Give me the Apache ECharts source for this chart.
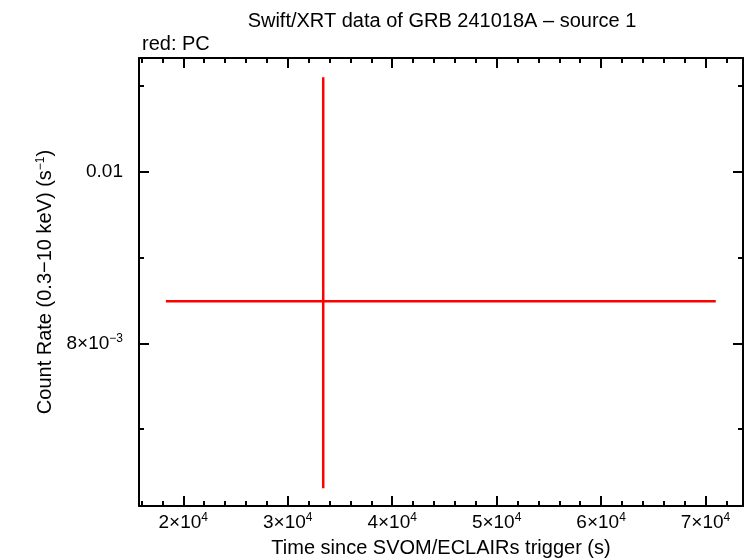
<!DOCTYPE html>
<html>
<head>
<meta charset="utf-8">
<script src="https://cdn.jsdelivr.net/npm/echarts@6/dist/echarts.min.js"></script>
<style>html,body{margin:0;padding:0;background:#fff}#c{width:746px;height:558px}</style>
</head>
<body>
<div id="c"></div>
<script>
// ---- data ----
const times = [33400];
const timeStart = [18340];
const timeEnd = [70980];
const rates = [0.00849];
const rateLow = [0.00631];
const rateHigh = [0.01110];

const xMajorTicks = [20000, 30000, 40000, 50000, 60000, 70000];
const xMajorLabels = ['2×10{s|4}', '3×10{s|4}', '4×10{s|4}', '5×10{s|4}', '6×10{s|4}', '7×10{s|4}'];
const xMinorTicks = [16000, 18000, 22000, 24000, 26000, 28000, 32000, 34000, 36000, 38000, 42000, 44000, 46000, 48000, 52000, 54000, 56000, 58000, 62000, 64000, 66000, 68000, 72000];
const yMajorTicks = [0.008, 0.01];
const yMajorLabels = ['8×10{s|−3}', '0.01'];
const yMinorTicks = [0.007, 0.009, 0.011];

const xRange = [15763, 73588];
const yRange = [0.006104, 0.011325];

const FONT = '"Liberation Sans", Arial, Helvetica, sans-serif';
const rich = { s: { fontSize: 12, verticalAlign: 'top', padding: [0, 0, 9, 0], fontFamily: FONT, color: '#000' } };

function xAxisDef(pos, ticks, len, withLabel, withLine) {
  return {
    type: 'value', position: pos, min: xRange[0], max: xRange[1],
    axisLine: { show: withLine, onZero: false, lineStyle: { color: '#000', width: 2 } },
    axisTick: { show: true, inside: true, length: len, customValues: ticks, lineStyle: { color: '#000', width: 2 } },
    axisLabel: withLabel ? {
      show: true, customValues: xMajorTicks, margin: 6, fontSize: 19, fontFamily: FONT, color: '#000', rich: rich,
      formatter: v => xMajorLabels[xMajorTicks.indexOf(v)]
    } : { show: false },
    splitLine: { show: false }
  };
}
function yAxisDef(pos, ticks, len, withLabel, withLine) {
  return {
    type: 'value', position: pos, min: yRange[0], max: yRange[1],
    axisLine: { show: withLine, onZero: false, lineStyle: { color: '#000', width: 2 } },
    axisTick: { show: true, inside: true, length: len, customValues: ticks, lineStyle: { color: '#000', width: 2 } },
    axisLabel: withLabel ? {
      show: true, customValues: yMajorTicks, margin: 16, fontSize: 19, fontFamily: FONT, color: '#000', rich: rich,
      formatter: v => yMajorLabels[yMajorTicks.findIndex(t => Math.abs(t - v) < 1e-9)]
    } : { show: false },
    splitLine: { show: false }
  };
}

const xAxes = [
  xAxisDef('bottom', xMajorTicks, 10, true, true),
  xAxisDef('bottom', xMinorTicks, 5, false, false),
  xAxisDef('top', xMajorTicks, 10, false, true),
  xAxisDef('top', xMinorTicks, 5, false, false)
];
xAxes[0].name = 'Time since SVOM/ECLAIRs trigger (s)';
xAxes[0].nameLocation = 'middle';
xAxes[0].nameGap = 32;
xAxes[0].nameTextStyle = { fontSize: 20, fontFamily: FONT, color: '#000' };

const yAxes = [
  yAxisDef('left', yMajorTicks, 10, true, true),
  yAxisDef('left', yMinorTicks, 5, false, false),
  yAxisDef('right', yMajorTicks, 10, false, true),
  yAxisDef('right', yMinorTicks, 5, false, false)
];
yAxes[0].name = 'Count Rate (0.3−10 keV) (s{s|−1})';
yAxes[0].nameLocation = 'middle';
yAxes[0].nameGap = 82;
yAxes[0].nameRotate = 90;
yAxes[0].nameTextStyle = { fontSize: 20, fontFamily: FONT, color: '#000', rich: rich };

const chart = echarts.init(document.getElementById('c'), null, { renderer: 'canvas' });
chart.setOption({
  animation: false,
  backgroundColor: '#fff',
  title: [
    { text: 'Swift/XRT data of GRB 241018A – source 1', left: 437, top: 6, textAlign: 'center',
      textStyle: { fontSize: 20, fontWeight: 'normal', fontFamily: FONT, color: '#000' } },
    { text: 'red: PC', left: 137, top: 29,
      textStyle: { fontSize: 20, fontWeight: 'normal', fontFamily: FONT, color: '#000' } }
  ],
  grid: { left: 139, right: 3, top: 58, bottom: 52, containLabel: false, outerBoundsMode: 'none' },
  xAxis: xAxes,
  yAxis: yAxes,
  series: [{
    type: 'custom',
    xAxisIndex: 0, yAxisIndex: 0,
    data: times.map((t, i) => [t, rates[i], timeStart[i], timeEnd[i], rateLow[i], rateHigh[i]]),
    encode: { x: [0, 2, 3], y: [1, 4, 5] },
    renderItem: function (params, api) {
      const c = api.coord([api.value(0), api.value(1)]);
      const xl = api.coord([api.value(2), api.value(1)]);
      const xr = api.coord([api.value(3), api.value(1)]);
      const yl = api.coord([api.value(0), api.value(4)]);
      const yh = api.coord([api.value(0), api.value(5)]);
      const st = { stroke: '#ff0000', lineWidth: 2.5 };
      return { type: 'group', children: [
        { type: 'line', shape: { x1: xl[0], y1: c[1], x2: xr[0], y2: c[1] }, style: st },
        { type: 'line', shape: { x1: c[0], y1: yl[1], x2: c[0], y2: yh[1] }, style: st }
      ]};
    }
  }]
});
</script>
</body>
</html>
